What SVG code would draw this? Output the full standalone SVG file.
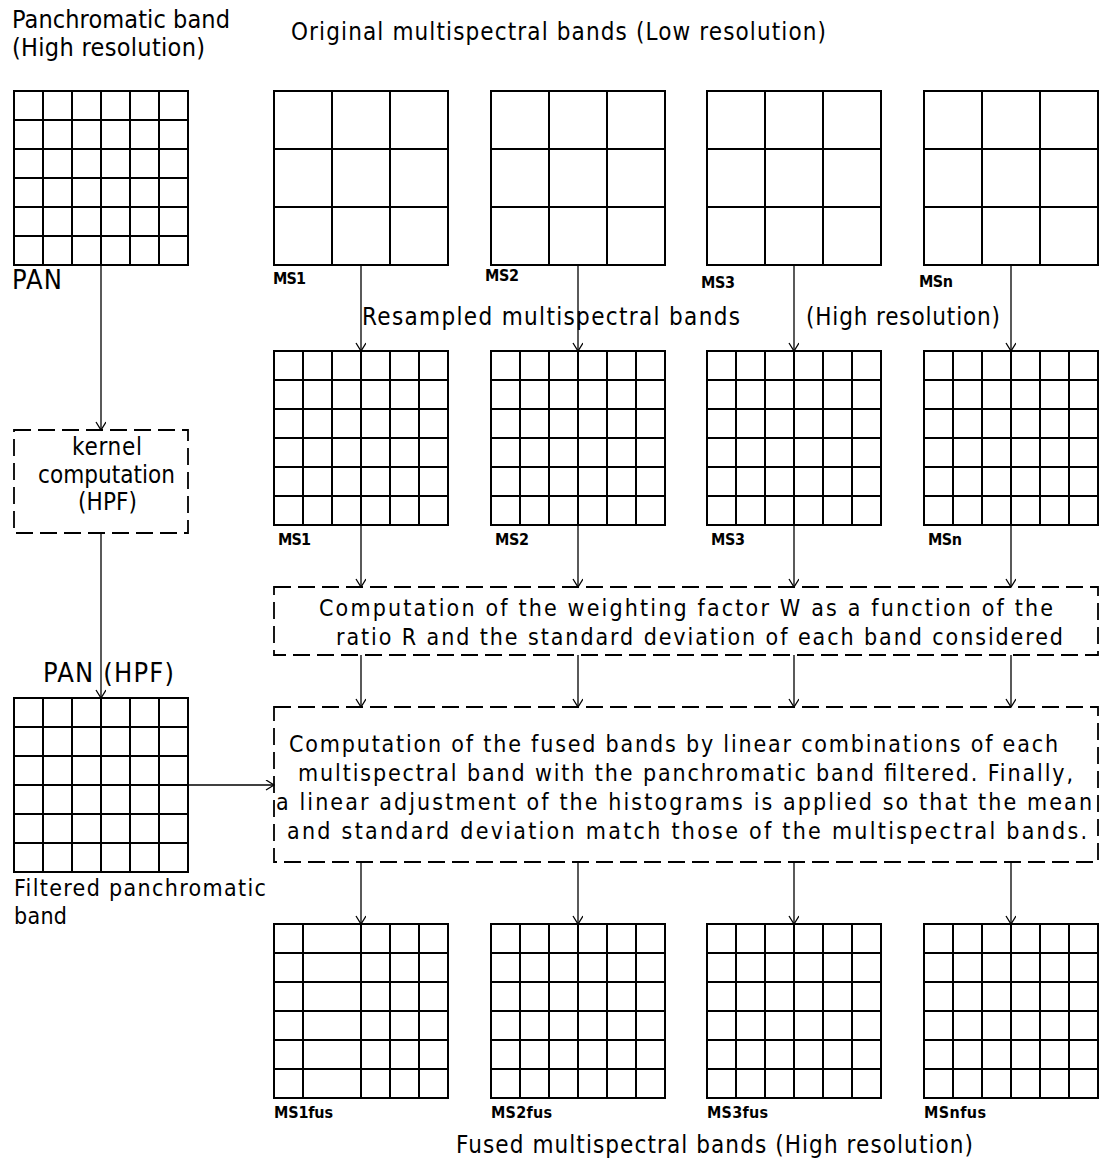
<svg xmlns="http://www.w3.org/2000/svg" width="1103" height="1162" viewBox="0 0 1103 1162">
<defs>
<style>
.g{fill:none;stroke:#000;stroke-width:2}
.c{fill:none;stroke:#000;stroke-width:1.3}
.d{fill:none;stroke:#000;stroke-width:1.8;stroke-dasharray:17 7}
.t{font-family:"Liberation Sans Narrow","DejaVu Sans Condensed","Liberation Sans",sans-serif;fill:#000}
.s{font-family:"Liberation Sans Narrow","DejaVu Sans Condensed","Liberation Sans",sans-serif;font-size:16px;font-weight:bold;fill:#000}
</style>
<marker id="a" markerUnits="userSpaceOnUse" markerWidth="12" markerHeight="12" refX="9" refY="5" orient="auto">
<path d="M1,0 L9,5 L1,10" fill="none" stroke="#000" stroke-width="1.3"/>
</marker>
<path id="g6" class="g" d="M0,0H174V174H0Z M29,0V174 M58,0V174 M87,0V174 M116,0V174 M145,0V174 M0,29H174 M0,58H174 M0,87H174 M0,116H174 M0,145H174"/>
<path id="g3" class="g" d="M0,0H174V174H0Z M58,0V174 M116,0V174 M0,58H174 M0,116H174"/>
</defs>
<rect width="1103" height="1162" fill="#fff"/>

<g id="titles">
<text class="t" x="12" y="28" font-size="25" textLength="218" lengthAdjust="spacing">Panchromatic band</text>
<text class="t" x="12" y="56" font-size="25" textLength="193" lengthAdjust="spacing">(High resolution)</text>
<text class="t" x="291" y="40" font-size="24" textLength="535" lengthAdjust="spacing">Original multispectral bands (Low resolution)</text>
<text class="t" x="362" y="325" font-size="24" textLength="378" lengthAdjust="spacing">Resampled  multispectral bands</text>
<text class="t" x="806" y="325" font-size="24" textLength="194" lengthAdjust="spacing">(High resolution)</text>
<text class="t" x="456" y="1153" font-size="24" textLength="517" lengthAdjust="spacing">Fused multispectral bands (High resolution)</text>
</g>

<g id="pan">
<use href="#g6" x="14" y="91"/>
<text class="t" x="12" y="289" font-size="27" textLength="50" lengthAdjust="spacing">PAN</text>
</g>

<g id="ms1-low"><use href="#g3" x="274" y="91"/><text class="s" x="273" y="284" textLength="33" lengthAdjust="spacing">MS1</text></g>
<g id="ms2-low"><use href="#g3" x="491" y="91"/><text class="s" x="485" y="281" textLength="34" lengthAdjust="spacing">MS2</text></g>
<g id="ms3-low"><use href="#g3" x="707" y="91"/><text class="s" x="701" y="288" textLength="34" lengthAdjust="spacing">MS3</text></g>
<g id="msn-low"><use href="#g3" x="924" y="91"/><text class="s" x="919" y="287" textLength="34" lengthAdjust="spacing">MSn</text></g>

<g id="ms1-res"><use href="#g6" x="274" y="351"/><text class="s" x="278" y="545" textLength="33" lengthAdjust="spacing">MS1</text></g>
<g id="ms2-res"><use href="#g6" x="491" y="351"/><text class="s" x="495" y="545" textLength="34" lengthAdjust="spacing">MS2</text></g>
<g id="ms3-res"><use href="#g6" x="707" y="351"/><text class="s" x="711" y="545" textLength="34" lengthAdjust="spacing">MS3</text></g>
<g id="msn-res"><use href="#g6" x="924" y="351"/><text class="s" x="928" y="545" textLength="34" lengthAdjust="spacing">MSn</text></g>

<g id="kernel">
<rect class="d" x="14" y="430" width="174" height="103"/>
<text class="t" x="72" y="455" font-size="24" textLength="70" lengthAdjust="spacing">kernel</text>
<text class="t" x="38" y="483" font-size="24" textLength="137" lengthAdjust="spacing">computation</text>
<text class="t" x="78" y="510" font-size="24" textLength="59" lengthAdjust="spacing">(HPF)</text>
</g>

<g id="pan-hpf">
<text class="t" x="43" y="682" font-size="27" textLength="131" lengthAdjust="spacing">PAN (HPF)</text>
<use href="#g6" x="14" y="698"/>
<text class="t" x="14" y="896" font-size="23" textLength="252" lengthAdjust="spacing">Filtered panchromatic</text>
<text class="t" x="14" y="924" font-size="23" textLength="53" lengthAdjust="spacing">band</text>
</g>

<g id="weighting">
<rect class="d" x="274" y="587" width="824" height="68"/>
<text class="t" x="319" y="616" font-size="23" textLength="734" lengthAdjust="spacing">Computation of the weighting factor W as a function of the</text>
<text class="t" x="336" y="645" font-size="23" textLength="727" lengthAdjust="spacing">ratio R and the standard deviation of each band considered</text>
</g>

<g id="fusion">
<rect class="d" x="274" y="707" width="824" height="155"/>
<text class="t" x="289" y="752" font-size="23" textLength="769" lengthAdjust="spacing">Computation of the fused bands by linear combinations of each</text>
<text class="t" x="298" y="781" font-size="23" textLength="775" lengthAdjust="spacing">multispectral band with the panchromatic band filtered.  Finally,</text>
<text class="t" x="276" y="810" font-size="23" textLength="816" lengthAdjust="spacing">a linear adjustment of the histograms is applied so that the mean</text>
<text class="t" x="287" y="839" font-size="23" textLength="800" lengthAdjust="spacing">and standard deviation match those of the multispectral bands.</text>
</g>

<g id="ms1-fus">
<path class="g" transform="translate(274,924)" d="M0,0H174V174H0Z M29,0V174 M87,0V174 M116,0V174 M145,0V174 M0,29H174 M0,58H174 M0,87H174 M0,116H174 M0,145H174"/>
<text class="s" x="274" y="1118" textLength="59" lengthAdjust="spacing">MS1fus</text>
</g>
<g id="ms2-fus"><use href="#g6" x="491" y="924"/><text class="s" x="491" y="1118" textLength="61" lengthAdjust="spacing">MS2fus</text></g>
<g id="ms3-fus"><use href="#g6" x="707" y="924"/><text class="s" x="707" y="1118" textLength="61" lengthAdjust="spacing">MS3fus</text></g>
<g id="msn-fus"><use href="#g6" x="924" y="924"/><text class="s" x="924" y="1118" textLength="62" lengthAdjust="spacing">MSnfus</text></g>

<g id="connectors">
<line class="c" x1="101" y1="265" x2="101" y2="430" marker-end="url(#a)"/>
<line class="c" x1="101" y1="533" x2="101" y2="698" marker-end="url(#a)"/>
<line class="c" x1="188" y1="785" x2="274" y2="785" marker-end="url(#a)"/>
<line class="c" x1="361" y1="265" x2="361" y2="351" marker-end="url(#a)"/>
<line class="c" x1="578" y1="265" x2="578" y2="351" marker-end="url(#a)"/>
<line class="c" x1="794" y1="265" x2="794" y2="351" marker-end="url(#a)"/>
<line class="c" x1="1011" y1="265" x2="1011" y2="351" marker-end="url(#a)"/>
<line class="c" x1="361" y1="525" x2="361" y2="587" marker-end="url(#a)"/>
<line class="c" x1="578" y1="525" x2="578" y2="587" marker-end="url(#a)"/>
<line class="c" x1="794" y1="525" x2="794" y2="587" marker-end="url(#a)"/>
<line class="c" x1="1011" y1="525" x2="1011" y2="587" marker-end="url(#a)"/>
<line class="c" x1="361" y1="655" x2="361" y2="707" marker-end="url(#a)"/>
<line class="c" x1="578" y1="655" x2="578" y2="707" marker-end="url(#a)"/>
<line class="c" x1="794" y1="655" x2="794" y2="707" marker-end="url(#a)"/>
<line class="c" x1="1011" y1="655" x2="1011" y2="707" marker-end="url(#a)"/>
<line class="c" x1="361" y1="862" x2="361" y2="924" marker-end="url(#a)"/>
<line class="c" x1="578" y1="862" x2="578" y2="924" marker-end="url(#a)"/>
<line class="c" x1="794" y1="862" x2="794" y2="924" marker-end="url(#a)"/>
<line class="c" x1="1011" y1="862" x2="1011" y2="924" marker-end="url(#a)"/>
</g>
</svg>
